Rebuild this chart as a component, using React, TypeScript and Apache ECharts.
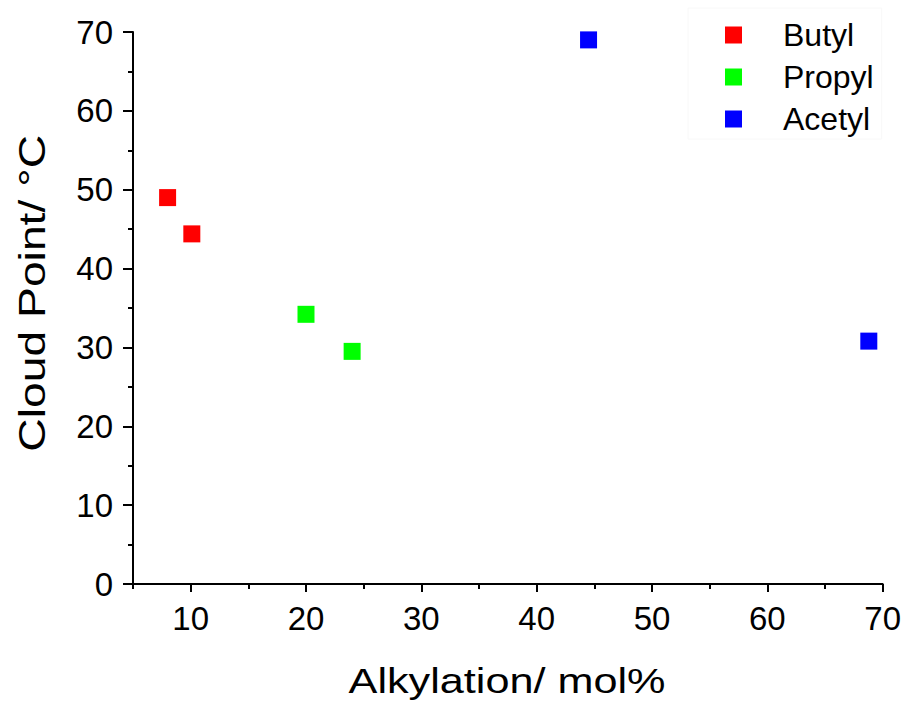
import React, { useEffect, useRef } from "react";
import * as echarts from "echarts";

const seriesNames = ["Butyl", "Propyl", "Acetyl"];
const seriesColors = ["#ff0000", "#00ff00", "#0000ff"];
const butylX = [8.0, 10.1];
const butylY = [49.0, 44.4];
const propylX = [20.0, 24.0];
const propylY = [34.2, 29.5];
const acetylX = [44.5, 68.8];
const acetylY = [69.0, 30.8];
const xMajorTicks = [10, 20, 30, 40, 50, 60, 70];
const xTitle = "Alkylation/ mol%";
const yTitle = "Cloud Point/ °C";

const FONT = '"Liberation Sans", Arial, Helvetica, sans-serif';

function pairs(xs: number[], ys: number[]) {
  return xs.map((x, i) => [x, ys[i]]);
}

export default function App() {
  const ref = useRef<HTMLDivElement>(null);
  useEffect(() => {
    if (!ref.current) return;
    const chart = echarts.init(ref.current, null, { renderer: "svg" });
    const allData = [pairs(butylX, butylY), pairs(propylX, propylY), pairs(acetylX, acetylY)];
    chart.setOption({
      animation: false,
      backgroundColor: "#ffffff",
      grid: { left: 133, right: 19, top: 32, bottom: 118, containLabel: false },
      xAxis: [
        {
          type: "value",
          min: 5,
          max: 70,
          interval: 5,
          position: "bottom",
          axisLine: { show: true, lineStyle: { color: "#000", width: 2 } },
          axisTick: { show: true, length: 5, lineStyle: { color: "#000", width: 2 } },
          axisLabel: { show: false },
          splitLine: { show: false },
        },
        {
          type: "value",
          min: 5,
          max: 70,
          position: "bottom",
          axisLine: { show: false },
          axisTick: { show: true, length: 8, customValues: xMajorTicks, lineStyle: { color: "#000", width: 2 } },
          axisLabel: {
            show: true,
            customValues: xMajorTicks,
            fontSize: 33,
            fontFamily: FONT,
            color: "#000",
            margin: 18,
          },
          splitLine: { show: false },
        },
      ],
      yAxis: {
        type: "value",
        min: 0,
        max: 70,
        interval: 10,
        axisLine: { show: true, lineStyle: { color: "#000", width: 2 } },
        axisTick: { show: true, length: 10, lineStyle: { color: "#000", width: 2 } },
        minorTick: { show: true, splitNumber: 2, length: 5, lineStyle: { color: "#000", width: 2 } },
        axisLabel: { fontSize: 33, fontFamily: FONT, color: "#000", margin: 20 },
        splitLine: { show: false },
        minorSplitLine: { show: false },
      },
      legend: {
        orient: "vertical",
        left: 688,
        top: 8,
        padding: [10, 8, 3, 37],
        itemWidth: 17,
        itemHeight: 17,
        itemGap: 8,
        icon: "rect",
        borderColor: "#f8f8f8",
        borderWidth: 1,
        textStyle: { fontSize: 32, fontFamily: FONT, color: "#000", lineHeight: 34, padding: [0, 0, 0, 36] },
        data: seriesNames,
      },
      series: seriesNames.map((name, i) => ({
        name,
        type: "scatter",
        xAxisIndex: 0,
        symbol: "rect",
        symbolSize: 17,
        itemStyle: { color: seriesColors[i], opacity: 1 },
        data: allData[i],
      })),
      graphic: [
        {
          type: "text",
          x: 507,
          y: 680,
          scaleX: 1.2,
          style: {
            text: xTitle,
            font: `36px ${FONT}`,
            fill: "#000",
            textAlign: "center",
            textVerticalAlign: "middle",
          },
        },
        {
          type: "text",
          x: 31.7,
          y: 293.3,
          rotation: Math.PI / 2,
          scaleX: 1.25,
          style: {
            text: yTitle,
            font: `37px ${FONT}`,
            fill: "#000",
            textAlign: "center",
            textVerticalAlign: "middle",
          },
        },
      ],
    });
    return () => chart.dispose();
  }, []);
  return (
    <div
      ref={ref}
      style={{ position: "absolute", left: 0, top: 0, width: 904, height: 702 }}
    />
  );
}
